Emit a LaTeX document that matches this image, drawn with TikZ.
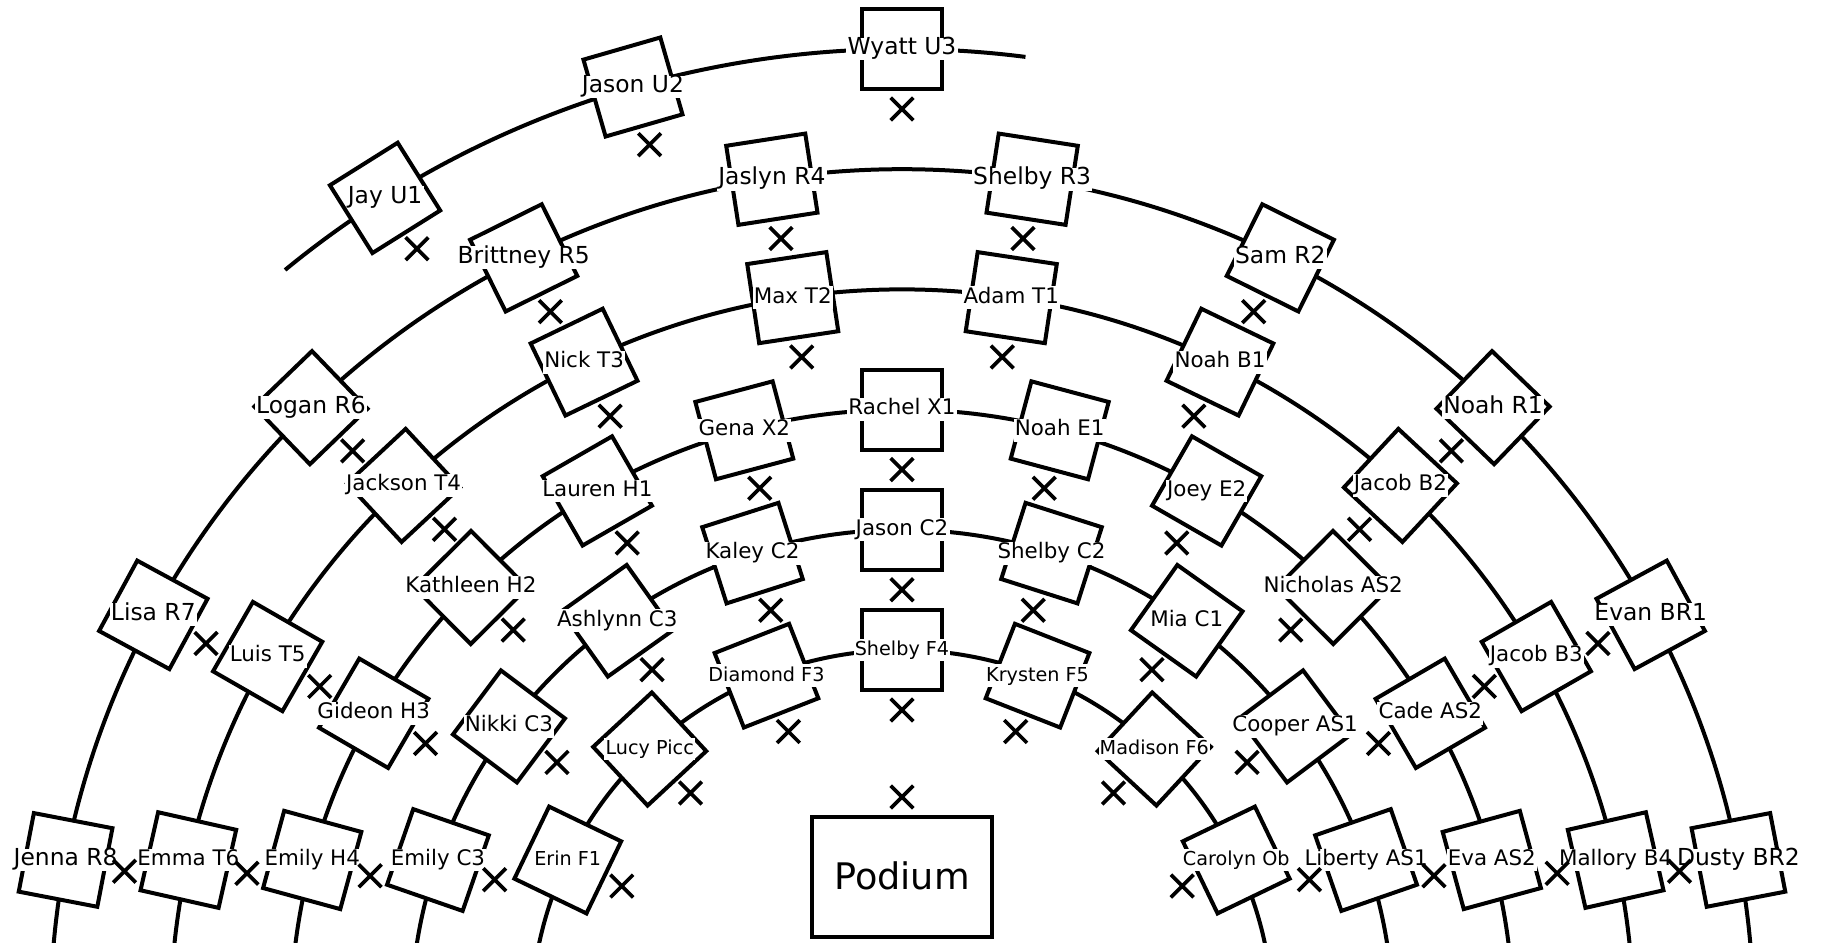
\documentclass[tikz,border=0pt]{standalone}
\usepackage{fontspec}
\setmainfont{DejaVu Sans}
\usetikzlibrary{shapes.misc}

\pgfdeclarelayer{marks}
\pgfsetlayers{main,marks}

\newcommand{\Seat}[4]{%
    \node[SeatStyle, rotate={-(#3)}] (#1) at ({90-(#3)}:#2) {};
    \node[LabelStyle] (#1t) at (#1) {#4};
    \begin{pgfonlayer}{marks}
        \node[MarkStyle] (#1x) at ({90-(#3)}:{#2-60}) {};
    \end{pgfonlayer}
}

\begin{document}
\begin{tikzpicture}[x=0.5pt,y=0.5pt]
    \tikzset{
        SeatStyle/.style = {draw, fill=white, line width=2pt, minimum size=40pt, inner sep=0pt},
        MarkStyle/.style = {draw, cross out, line width=1.85pt, minimum size=9.5pt, inner sep=0pt},
        LabelStyle/.style = {fill=white, inner xsep=0.6pt, inner ysep=0.6pt,
            text height=0.78em, text depth=0.24em, font=\fontsize{11.7}{14}\selectfont},
        RowStyle/.style = {line width=2pt}
    }
    \useasboundingbox (0,0) rectangle (1825,942);
    \clip (0,0) rectangle (1825,942);

    \begin{scope}[shift={(902,-79)}]
    \coordinate (centre) at (0,0);
    \draw[RowStyle] (centre) circle[radius=371];
    \draw[RowStyle] (centre) circle[radius=491.2];
    \draw[RowStyle] (centre) circle[radius=611.4];
    \draw[RowStyle] (centre) circle[radius=731.6];
    \draw[RowStyle] (centre) circle[radius=851.8];
    \draw[RowStyle] (129.4:972) arc[start angle=129.4, end angle=82.7, radius=972];

    \Seat{JayU1}{972}{-32.13}{Jay U1}
    \Seat{JasonU2}{972}{-16.07}{Jason U2}
    \Seat{WyattU3}{972}{0}{Wyatt U3}

    \Seat{JennaR8}{851.8}{-79.10}{Jenna R8}
    \Seat{LisaR7}{851.8}{-61.52}{Lisa R7}
    \Seat{LoganR6}{851.8}{-43.94}{Logan R6}
    \Seat{BrittneyR5}{851.8}{-26.37}{Brittney R5}
    \Seat{JaslynR4}{851.8}{-8.79}{Jaslyn R4}
    \Seat{ShelbyR3}{851.8}{8.79}{Shelby R3}
    \Seat{SamR2}{851.8}{26.37}{Sam R2}
    \Seat{NoahR1}{851.8}{43.94}{Noah R1}
    \Seat{EvanBR1}{851.8}{61.52}{Evan BR1}
    \Seat{DustyBR2}{851.8}{79.10}{Dusty BR2}

    \tikzset{LabelStyle/.append style = {font=\fontsize{10.7}{13}\selectfont}}
    \Seat{EmmaT6}{731.6}{-77.29}{Emma T6}
    \Seat{LuisT5}{731.6}{-60.12}{Luis T5}
    \Seat{JacksonT4}{731.6}{-42.94}{Jackson T4}
    \Seat{NickT3}{731.6}{-25.76}{Nick T3}
    \Seat{MaxT2}{731.6}{-8.59}{Max T2}
    \Seat{AdamT1}{731.6}{8.59}{Adam T1}
    \Seat{NoahB1}{731.6}{25.76}{Noah B1}
    \Seat{JacobB2}{731.6}{42.94}{Jacob B2}
    \Seat{JacobB3}{731.6}{60.12}{Jacob B3}
    \Seat{MalloryB4}{731.6}{77.29}{Mallory B4}

    \Seat{EmilyH4}{611.4}{-74.73}{Emily H4}
    \Seat{GideonH3}{611.4}{-59.78}{Gideon H3}
    \Seat{KathleenH2}{611.4}{-44.84}{Kathleen H2}
    \Seat{LaurenH1}{611.4}{-29.89}{Lauren H1}
    \Seat{GenaX2}{611.4}{-14.95}{Gena X2}
    \Seat{RachelX1}{611.4}{0}{Rachel X1}
    \Seat{NoahE1}{611.4}{14.95}{Noah E1}
    \Seat{JoeyE2}{611.4}{29.89}{Joey E2}
    \Seat{NicholasAS2}{611.4}{44.84}{Nicholas AS2}
    \Seat{CadeAS2}{611.4}{59.78}{Cade AS2}
    \Seat{EvaAS2}{611.4}{74.73}{Eva AS2}

    \Seat{EmilyC3}{491.2}{-70.87}{Emily C3}
    \Seat{NikkiC3}{491.2}{-53.15}{Nikki C3}
    \Seat{AshlynnC3}{491.2}{-35.43}{Ashlynn C3}
    \Seat{KaleyC2}{491.2}{-17.72}{Kaley C2}
    \Seat{JasonC2}{491.2}{0}{Jason C2}
    \Seat{ShelbyC2}{491.2}{17.72}{Shelby C2}
    \Seat{MiaC1}{491.2}{35.43}{Mia C1}
    \Seat{CooperAS1}{491.2}{53.15}{Cooper AS1}
    \Seat{LibertyAS1}{491.2}{70.87}{Liberty AS1}

    \tikzset{LabelStyle/.append style = {font=\fontsize{9.6}{12}\selectfont}}
    \Seat{ErinF1}{371}{-64.28}{Erin F1}
    \Seat{LucyPicc}{371}{-42.85}{Lucy Picc}
    \Seat{DiamondF3}{371}{-21.43}{Diamond F3}
    \Seat{ShelbyF4}{371}{0}{Shelby F4}
    \Seat{KrystenF5}{371}{21.43}{Krysten F5}
    \Seat{MadisonF6}{371}{42.85}{Madison F6}
    \Seat{CarolynOb}{371}{64.28}{Carolyn Ob}
    \end{scope}

    \node[draw, line width=2pt, minimum width=90pt, minimum height=60pt,
        font=\fontsize{18.3}{22}\selectfont] (podium) at (902,65) {\raisebox{1pt}{Podium}};
    \node[MarkStyle] (podiumx) at (902,145) {};
\end{tikzpicture}
\end{document}
